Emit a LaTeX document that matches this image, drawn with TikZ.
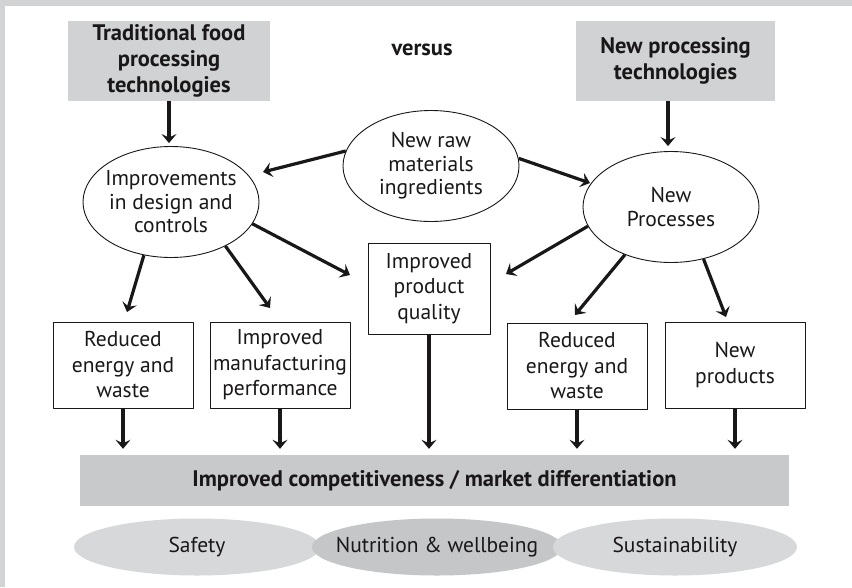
\documentclass[tikz,border=0pt]{standalone}
\usepackage{fontspec}
\setmainfont{PT Sans}
\usepackage{tikz}
\usetikzlibrary{shapes.geometric,arrows.meta}
\definecolor{framegrey}{HTML}{D1D3D4}
\definecolor{headgrey}{HTML}{D1D2D4}
\definecolor{bargrey}{HTML}{C8C9CB}
\definecolor{lightoval}{HTML}{D7D8DA}
\definecolor{darkoval}{HTML}{C5C6C8}
\definecolor{ink}{HTML}{1A1718}

\begin{document}
\begin{tikzpicture}[x=1pt,y=-1pt,line cap=round,line join=round,
  txt/.style={font=\fontsize{21.5}{25.5}\selectfont,text=ink,align=center},
  bubtxt/.style={font=\fontsize{21.5}{23.5}\selectfont,text=ink,align=center},
  boldtxt/.style={font=\bfseries\fontsize{22.5}{26}\selectfont,text=ink,align=center},
  headbox/.style={boldtxt,fill=headgrey,minimum height=80pt,inner sep=0pt},
  box/.style={txt,draw=ink,line width=1pt,minimum width=140pt,minimum height=86pt,inner sep=0pt},
  bubble/.style={ellipse,draw=ink,line width=0.9pt,minimum width=176pt,minimum height=111pt,inner sep=0pt},
  oval/.style={ellipse,minimum height=57pt,inner sep=0pt},
  arr/.style={draw=ink,line width=3.2pt,line cap=butt,-{Stealth[length=9pt,width=15pt,inset=3.5pt]}}]
\useasboundingbox (0,0) rectangle (852,587);
% frame
\fill[framegrey] (0,0) rectangle (852,587);
\fill[white] (5,6) rectangle (852,587);

% top row
\node[headbox,minimum width=202pt] (trad) at (169,61) {Traditional food\\processing\\technologies};
\node[boldtxt] (vs) at (422,50) {versus};
\node[headbox,minimum width=199pt] (newtech) at (675.5,61) {New processing\\technologies};

% ellipses
\node[bubble,label={[bubtxt]center:{Improvements\\in design and\\controls}}] (imp) at (171,202) {};
\node[bubble,label={[bubtxt]center:{New raw\\materials\\ingredients}}] (raw) at (431,166) {};
\node[bubble,label={[bubtxt]center:{New\\Processes}}] (np) at (671,207) {};

% outcome boxes
\node[box] (red1) at (123,365) {Reduced\\energy and\\waste};
\node[box] (manuf) at (280,365) {Improved\\manufacturing\\performance};
\node[box,minimum width=122pt,minimum height=91pt] (qual) at (429,288.5) {Improved\\product\\quality};
\node[box] (red2) at (577,366) {Reduced\\energy and\\waste};
\node[box] (newprod) at (735,365) {New\\products};

% result bar
\node[boldtxt,fill=bargrey,minimum width=709pt,minimum height=51pt,inner sep=0pt] (comp) at (434.5,480.5) {Improved competitiveness / market differentiation};

% aims
\node[oval,fill=lightoval,minimum width=246pt,label={[txt]center:Safety}] (safe) at (197,547) {};
\node[oval,fill=darkoval,minimum width=250pt,label={[txt]center:{Nutrition \& wellbeing}}] (nutr) at (437,547) {};
\node[oval,fill=lightoval,minimum width=244pt,label={[txt]center:Sustainability}] (sust) at (675,547) {};

% free arrow ends
\coordinate (tipred1) at (127,312);
\coordinate (tipmanuf) at (270,308);
\coordinate (tipqualL) at (350,275);
\coordinate (tipimp) at (263,172);
\coordinate (tipnp) at (590,183);
\coordinate (tipqualR) at (506,274);
\coordinate (tipred2) at (575,315);
\coordinate (tipnew) at (726,317);

% arrows
\draw[arr,shorten >=3pt] (trad.south) -- (trad.south |- imp.north);
\draw[arr,shorten >=5pt] ([xshift=-3pt]np.north |- newtech.south) -- ([xshift=-3pt]np.north);
\draw[arr] (raw.170) -- (tipimp);
\draw[arr] (raw.5) -- (tipnp);
\draw[arr] (imp.243) -- (tipred1);
\draw[arr] (imp.321) -- (tipmanuf);
\draw[arr] (imp.345) -- (tipqualL);
\draw[arr] (np.193) -- (tipqualR);
\draw[arr] (np.226) -- (tipred2);
\draw[arr] (np.302) -- (tipnew);
\foreach \n in {red1,manuf,qual,red2,newprod}
  \draw[arr,shorten >=6pt] (\n.south) -- (\n.south |- comp.north);
\end{tikzpicture}
\end{document}
